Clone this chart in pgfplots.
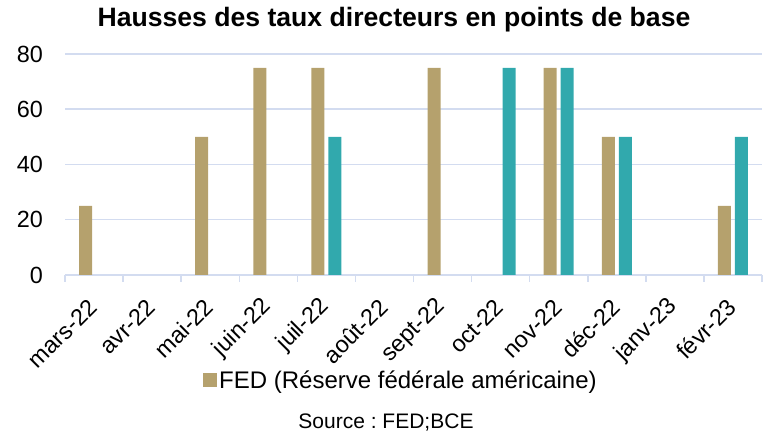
\documentclass[border=0pt]{standalone}
\usepackage{fontspec}
\setmainfont{Liberation Sans}
\usepackage{pgfplots}
\pgfplotsset{compat=1.18}
\definecolor{fedc}{HTML}{B5A16D}
\definecolor{bcec}{HTML}{31A9AD}
\definecolor{gridc}{HTML}{D3DCF0}
\frenchspacing
\begin{document}
\begin{tikzpicture}
\useasboundingbox (0pt,0pt) rectangle (764pt,433pt);
\begin{axis}[
  at={(65pt,158pt)}, anchor=south west,
  scale only axis, width=697pt, height=221pt,
  xmin=-0.5, xmax=11.5, ymin=0, ymax=80,
  ytick={0,20,40,60,80},
  xtick={0,...,11},
  xticklabels={mars-22,avr-22,mai-22,juin-22,juil-22,août-22,sept-22,oct-22,nov-22,déc-22,janv-23,févr-23},
  minor xtick={-0.5,0.5,1.5,2.5,3.5,4.5,5.5,6.5,7.5,8.5,9.5,10.5,11.5},
  major tick length=0pt, minor tick length=7pt, tick align=outside,
  minor x tick style={gridc, line width=1.5pt},
  major x tick style={draw=none}, major y tick style={draw=none},
  ymajorgrids, major grid style={gridc, line width=1.5pt},
  axis x line*=bottom, axis y line*=left,
  x axis line style={gridc, line width=1.5pt},
  y axis line style={draw=none},
  /pgf/number format/assume math mode=true,
  tick label style={font=\fontsize{23.4}{27}\selectfont, text=black},
  yticklabel style={anchor=east, inner sep=0pt, xshift=-22pt},
  xticklabel style={xshift=-1pt, yshift=-28pt, rotate=45, anchor=east, inner sep=0pt},
  legend style={draw=none, fill=none, at={(axis description cs:0.198,-0.475)}, anchor=west,
    font=\fontsize{24}{27}\selectfont, inner sep=0pt, legend cell align=left},
  legend image code/.code={\fill[fedc] (0pt,-7pt) rectangle (14pt,7pt);},
  clip=false,
]
\addplot[ybar, fill=fedc, draw=none, bar width=13pt, bar shift=-8.5pt]
  coordinates {(0,25) (2,50) (3,75) (4,75) (6,75) (8,75) (9,50) (11,25)};
\addlegendentry{FED (Réserve fédérale américaine)}
\addplot[ybar, fill=bcec, draw=none, bar width=13pt, bar shift=8.5pt, forget plot]
  coordinates {(4,50) (7,75) (8,75) (9,50) (11,50)};
\end{axis}
\node[font=\bfseries\fontsize{26.6}{30}\selectfont] at (394pt,413pt) {Hausses des taux directeurs en points de base};
\node[font=\fontsize{21}{24}\selectfont] at (386pt,10pt) {Source : FED;BCE};
\end{tikzpicture}
\end{document}
